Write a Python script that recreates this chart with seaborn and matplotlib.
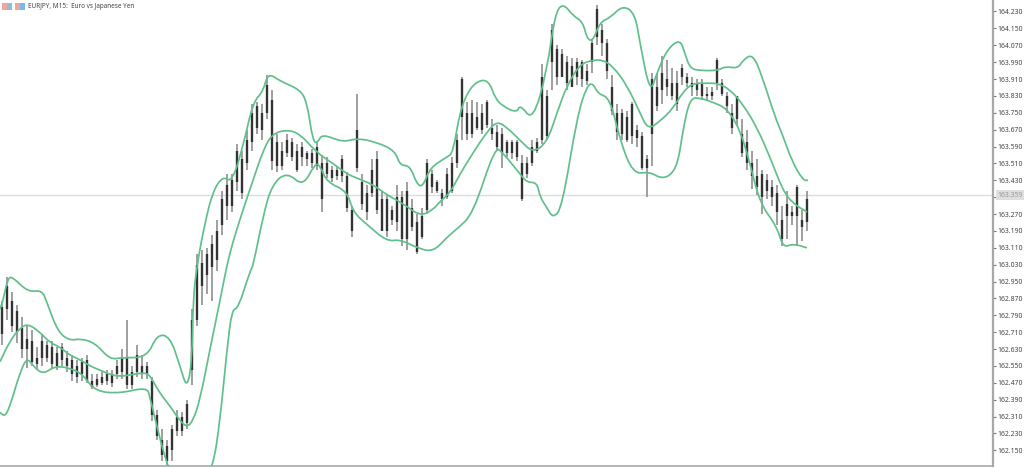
import numpy as np
import pandas as pd
import seaborn as sns
import matplotlib
matplotlib.use("Agg")
import matplotlib.pyplot as plt
from matplotlib.patches import Rectangle, PathPatch
from matplotlib.path import Path

title_text = "EURJPY, M15:  Euro vs Japanese Yen"
last_price_label = "163.359"
last_price = 163.36
tick_labels = ["164.230","164.150","164.070","163.990","163.910","163.830","163.750","163.670","163.590",
               "163.510","163.430","163.350","163.270","163.190","163.110","163.030","162.950","162.870",
               "162.790","162.710","162.630","162.550","162.470","162.390","162.310","162.230","162.150"]

body_top = [162.83,162.93,162.86,162.81,162.73,162.68,162.67,162.59,162.67,162.65,162.64,162.61,162.64,162.59,162.58,162.55,162.57,162.58,162.48,162.49,
162.50,162.51,162.51,162.55,162.59,162.59,162.52,162.60,162.55,162.55,162.48,162.32,162.20,162.17,162.25,162.31,162.31,162.37,162.77,163.03,
163.04,163.08,163.13,163.19,163.34,163.41,163.43,163.57,163.53,163.62,163.75,163.78,163.75,163.88,163.81,163.61,163.57,163.62,163.61,163.57,
163.59,163.56,163.56,163.59,163.51,163.51,163.48,163.48,163.53,163.45,163.29,163.67,163.42,163.37,163.48,163.53,163.34,163.34,163.29,163.35,
163.35,163.38,163.30,163.23,163.26,163.51,163.46,163.42,163.37,163.46,163.51,163.62,163.91,163.75,163.75,163.73,163.75,163.80,163.68,163.66,
163.65,163.61,163.61,163.61,163.51,163.51,163.59,163.61,163.92,163.83,164.14,164.05,164.03,163.99,163.97,163.99,163.99,163.95,164.08,164.24,
164.14,164.08,163.87,163.75,163.75,163.73,163.79,163.67,163.64,163.53,163.91,163.87,163.94,163.91,163.89,163.89,163.96,163.92,163.89,163.89,
163.89,163.84,163.85,164.00,163.89,163.83,163.75,163.83,163.65,163.61,163.51,163.45,163.46,163.43,163.40,163.37,163.24,163.32,163.28,163.40,
163.24,163.34]
body_bottom = [162.70,162.82,162.74,162.71,162.63,162.63,162.57,162.56,162.59,162.59,162.56,162.55,162.58,162.55,162.51,162.50,162.51,162.48,162.45,162.46,
162.47,162.48,162.47,162.51,162.52,162.46,162.46,162.52,162.51,162.51,162.32,162.22,162.13,162.10,162.15,162.24,162.24,162.28,162.53,162.77,
162.93,162.98,163.02,163.05,163.22,163.31,163.31,163.42,163.37,163.51,163.61,163.68,163.67,163.75,163.52,163.50,163.50,163.56,163.54,163.48,
163.54,163.53,163.51,163.50,163.34,163.46,163.44,163.45,163.45,163.30,163.19,163.49,163.32,163.28,163.37,163.29,163.19,163.19,163.24,163.23,
163.15,163.15,163.21,163.09,163.16,163.29,163.40,163.38,163.34,163.35,163.38,163.51,163.73,163.65,163.65,163.68,163.67,163.69,163.65,163.59,
163.56,163.56,163.56,163.54,163.34,163.46,163.51,163.57,163.62,163.64,163.99,163.92,163.92,163.89,163.87,163.92,163.91,163.90,163.99,164.11,
164.08,163.95,163.76,163.66,163.65,163.62,163.64,163.63,163.49,163.49,163.65,163.78,163.86,163.87,163.83,163.79,163.92,163.89,163.87,163.86,
163.83,163.83,163.83,163.89,163.84,163.78,163.68,163.72,163.56,163.51,163.45,163.40,163.35,163.38,163.35,163.28,163.15,163.26,163.26,163.26,
163.21,163.23]
high = [162.86,162.97,162.90,162.84,162.78,162.74,162.72,162.64,162.70,162.67,162.67,162.64,162.66,162.62,162.60,162.58,162.59,162.60,162.51,162.51,
162.52,162.53,162.53,162.58,162.63,162.77,162.55,162.65,162.60,162.57,162.50,162.34,162.25,162.20,162.27,162.34,162.33,162.39,162.82,163.08,
163.10,163.11,163.17,163.24,163.38,163.46,163.46,163.60,163.57,163.67,163.79,163.80,163.79,163.93,163.86,163.65,163.61,163.65,163.63,163.60,
163.61,163.57,163.58,163.61,163.55,163.54,163.50,163.50,163.55,163.47,163.31,163.84,163.46,163.41,163.53,163.57,163.38,163.36,163.31,163.41,
163.38,163.42,163.34,163.27,163.30,163.53,163.48,163.43,163.39,163.49,163.54,163.65,163.92,163.80,163.81,163.80,163.79,163.81,163.72,163.69,
163.68,163.62,163.62,163.62,163.55,163.54,163.62,163.63,163.98,163.86,164.17,164.07,164.05,164.02,164.01,164.01,164.00,163.98,164.10,164.26,
164.17,164.10,163.93,163.79,163.77,163.76,163.80,163.69,163.66,163.55,163.94,163.94,164.02,164.00,163.96,163.95,163.98,163.94,163.92,163.91,
163.91,163.87,163.87,164.01,163.91,163.85,163.79,163.83,163.72,163.67,163.57,163.53,163.48,163.46,163.43,163.41,163.31,163.38,163.31,163.41,
163.29,163.38]
low = [162.65,162.77,162.71,162.66,162.59,162.54,162.55,162.53,162.55,162.57,162.54,162.53,162.55,162.52,162.48,162.47,162.48,162.47,162.44,162.45,
162.46,162.46,162.45,162.49,162.49,162.44,162.44,162.50,162.49,162.49,162.29,162.20,162.10,162.08,162.10,162.22,162.22,162.25,162.46,162.74,
162.84,162.89,162.86,163.00,163.17,163.24,163.28,163.38,163.34,163.48,163.57,163.65,163.62,163.72,163.48,163.47,163.48,163.54,163.52,163.47,
163.50,163.50,163.49,163.48,163.28,163.44,163.42,163.43,163.42,163.28,163.16,163.47,163.29,163.24,163.35,163.27,163.19,163.16,163.22,163.19,
163.12,163.10,163.19,163.08,163.15,163.27,163.37,163.37,163.31,163.34,163.37,163.49,163.62,163.62,163.63,163.67,163.65,163.68,163.62,163.57,
163.49,163.54,163.53,163.52,163.33,163.44,163.50,163.56,163.60,163.62,163.86,163.88,163.92,163.86,163.87,163.88,163.87,163.88,163.94,164.07,
164.02,163.91,163.74,163.62,163.62,163.61,163.60,163.59,163.48,163.35,163.50,163.76,163.79,163.83,163.81,163.76,163.88,163.87,163.83,163.83,
163.81,163.81,163.81,163.86,163.83,163.75,163.65,163.69,163.54,163.48,163.39,163.36,163.27,163.34,163.31,163.22,163.12,163.15,163.22,163.12,
163.14,163.19]

mid_t = [0,10,20,28,40,50,60,70,80,90,100,110,120,133,147,153,160,170,180,187,193,200,210,220,227,233,243,253,263,272,287,300,317,333,347,357,373,387,403,420,433,440,450,460,473,487,497,507,520,533,547,557,567,580,593,603,613,627,640,648,660,673,683,693,707,718,730,743,757,770,783,793,807]
mid_band = [162.57,162.67,162.73,162.75,162.71,162.66,162.64,162.60,162.58,162.55,162.53,162.51,162.50,162.51,162.52,162.48,162.42,162.36,162.29,162.26,162.29,162.39,162.63,162.86,163.03,163.14,163.29,163.43,163.57,163.65,163.67,163.65,163.56,163.51,163.46,163.44,163.41,163.36,163.32,163.26,163.29,163.33,163.37,163.46,163.56,163.66,163.71,163.68,163.62,163.56,163.61,163.75,163.88,163.98,164.00,164.00,163.97,163.88,163.75,163.67,163.71,163.77,163.85,163.89,163.89,163.89,163.86,163.79,163.68,163.54,163.38,163.32,163.28]

upper_t = [0,3,8,13,28,42,47,58,70,80,95,110,122,147,157,170,180,187,192,193,197,205,213,223,232,243,253,263,268,280,300,307,313,318,322,343,357,377,395,400,410,417,423,430,447,453,460,470,482,490,495,503,517,520,533,547,555,563,573,583,587,593,600,610,623,635,640,650,657,667,680,685,690,700,718,725,738,743,753,763,775,783,792,803,808]
upper_band = [162.82,162.86,162.97,162.97,162.90,162.91,162.85,162.71,162.67,162.68,162.66,162.58,162.59,162.59,162.70,162.69,162.55,162.44,162.57,162.86,163.03,163.23,163.38,163.45,163.42,163.59,163.80,163.85,163.94,163.90,163.86,163.80,163.61,163.61,163.65,163.61,163.63,163.61,163.57,163.50,163.50,163.41,163.40,163.49,163.54,163.56,163.76,163.87,163.91,163.89,163.82,163.78,163.75,163.79,163.71,163.95,164.22,164.27,164.21,164.18,164.10,164.09,164.18,164.20,164.26,164.22,164.08,163.84,163.94,164.05,164.10,164.03,163.96,163.95,163.95,163.97,163.96,164.00,164.03,163.91,163.73,163.64,163.52,163.43,163.43]

lower_t = [0,5,10,20,27,33,43,55,70,83,95,120,147,150,167,175,187,200,213,220,227,232,238,250,253,263,272,287,303,315,320,327,347,353,367,387,400,417,433,447,457,473,495,503,520,527,537,540,547,553,562,577,587,593,598,610,620,633,650,660,670,678,683,690,700,713,727,740,750,760,777,783,793,807]
lower_band = [162.33,162.31,162.36,162.52,162.59,162.55,162.51,162.55,162.54,162.51,162.43,162.42,162.45,162.40,162.07,162.03,162.08,161.96,162.07,162.29,162.63,162.82,162.82,163.00,163.02,163.26,163.41,163.47,163.40,163.51,163.50,163.42,163.38,163.28,163.22,163.14,163.15,163.11,163.09,163.16,163.20,163.27,163.59,163.56,163.46,163.42,163.42,163.35,163.30,163.25,163.30,163.73,163.88,163.89,163.84,163.82,163.62,163.46,163.47,163.44,163.45,163.51,163.67,163.82,163.82,163.80,163.77,163.67,163.51,163.32,163.21,163.11,163.13,163.11]

sns.set_theme(style="white")
plt.rcParams["font.family"] = ["Noto Sans", "DejaVu Sans"]

fig = plt.figure(figsize=(10.24, 4.68), dpi=100, facecolor="white")
ax = fig.add_axes([0, 2/468, 993/1024, 466/468])
ax.set_facecolor("white")
ax.set_xlim(0, 993)
ax.set_ylim(164.2845 - 466/211, 164.2845)

candles = pd.DataFrame({"t": 2 + 5*np.arange(len(high)), "high": high, "low": low,
                        "top": body_top, "bottom": body_bottom})

ax.axhline(last_price, color="#dcdcdc", lw=1.0, zorder=1)
ax.vlines(candles["t"], candles["low"], candles["high"], color="#8f8f8f", lw=1.2, zorder=2)
ax.vlines(candles["t"], candles["bottom"], candles["top"], color="#333333", lw=1.7, zorder=3)

green = "#60c08c"


def round_line(line):
    """Redraw a seaborn line with rounded corners, its vertices acting as curve controls."""
    xy = line.get_xydata()
    verts = [xy[0], (xy[0] + xy[1]) / 2]
    codes = [Path.MOVETO, Path.LINETO]
    for i in range(1, len(xy) - 1):
        verts += [xy[i], (xy[i] + xy[i + 1]) / 2]
        codes += [Path.CURVE3, Path.CURVE3]
    verts.append(xy[-1])
    codes.append(Path.LINETO)
    ax.add_patch(PathPatch(Path(np.array(verts), codes), fc="none", ec=line.get_color(),
                           lw=line.get_linewidth(), zorder=line.get_zorder()))
    line.set_visible(False)


for t, band in [(upper_t, upper_band), (mid_t, mid_band), (lower_t, lower_band)]:
    frame = pd.DataFrame({"t": t, "price": band})
    sns.lineplot(data=frame, x="t", y="price", ax=ax, color=green, lw=1.25,
                 estimator=None, sort=False, zorder=4, legend=False)
    round_line(ax.lines[-1])

ax.set_xlabel("")
ax.set_ylabel("")
ax.set_xticks([])
tick_values = [float(s) for s in tick_labels]
ax.yaxis.tick_right()
ax.set_yticks(tick_values)
ax.set_yticklabels(tick_labels)
ax.tick_params(axis="y", right=True, length=2, width=0.8, color="#777777", pad=1,
               labelsize=4.9, labelcolor="#444444")
for s in ["top", "left"]:
    ax.spines[s].set_visible(False)
ax.spines["right"].set_color("#a8a8a8")
ax.spines["right"].set_linewidth(1.6)
ax.spines["bottom"].set_color("#a8a8a8")
ax.spines["bottom"].set_linewidth(1.2)

ax.get_yticklabels()[11].set_visible(False)
ax.annotate(last_price_label, xy=(1, last_price), xycoords=("axes fraction", "data"),
            xytext=(3, 0), textcoords="offset points", fontsize=4.9, color="#9a9a9a", va="center", ha="left",
            annotation_clip=False, zorder=6, bbox=dict(boxstyle="square,pad=0.2", fc="#dedede", ec="none"))

fig.text(28/1024, 1 - 6/468, title_text, fontsize=4.6, color="#444444", va="center", ha="left")
for x0, c in [(2, "#f2a59c"), (7, "#8dbce6"), (15, "#f2a59c"), (20, "#7db6ea")]:
    fig.add_artist(Rectangle((x0/1024, 1 - 9.5/468), 4.5/1024, 6.5/468, transform=fig.transFigure,
                             fc=c, ec="none"))

fig.savefig("out.png", dpi=100)
